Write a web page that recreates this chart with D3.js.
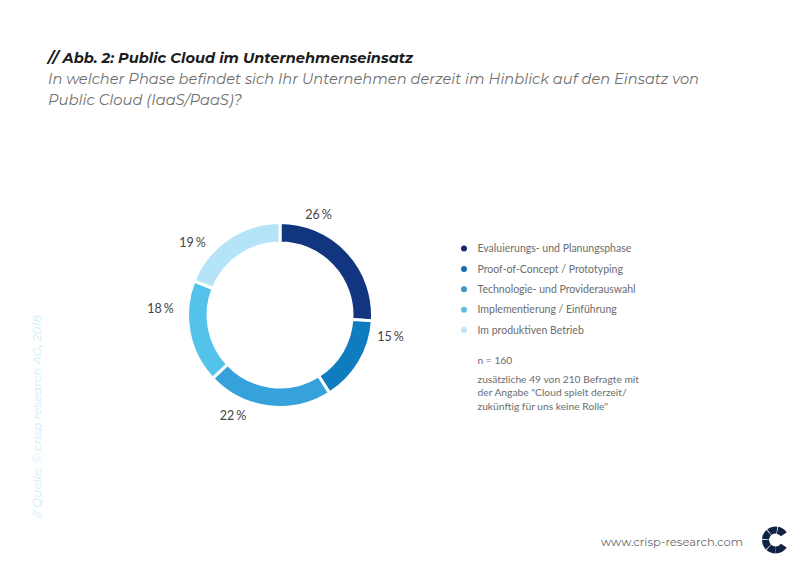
<!DOCTYPE html>
<html><head><meta charset="utf-8">
<script src="https://cdn.jsdelivr.net/npm/d3@7"></script>
<style>html,body{margin:0;padding:0;background:#fff}svg{display:block}</style></head>
<body><svg id="c" width="800" height="565"></svg>
<script>
const categories=["Evaluierungs- und Planungsphase","Proof-of-Concept / Prototyping","Technologie- und Providerauswahl","Implementierung / Einführung","Im produktiven Betrieb"];
const values=[26,15,22,18,19];
const colors=["#11357f","#0f7cc0","#36a2dc","#54c3ec","#b5e3f8"];
const valueLabels=["26 %","15 %","22 %","18 %","19 %"];
const labelAnchors=[[318.5,215],[390.5,337],[233,416],[160.5,309],[192.5,243]];
const notes=["n = 160","zusätzliche 49 von 210 Befragte mit","der Angabe \"Cloud spielt derzeit/","zukünftig für uns keine Rolle\""];
const logoSegments=[[12,56],[-38,8],[-86,-42],[-134,-90],[-180,-138],[124,180]];
const titleFont="Montserrat, Inter, 'Open Sans', sans-serif";
const svg=d3.select("#c");
function txt(x,y,s,o={}){
  const t=svg.append("text").attr("x",x).attr("y",y).text(s)
   .attr("font-family",o.f||"Lato").attr("font-size",o.s||11).attr("fill",o.c||"#555")
   .attr("font-style",o.i?"italic":"normal").attr("font-weight",o.w||400);
  if(o.a)t.attr("text-anchor",o.a);
  if(o.l)t.attr("textLength",o.l).attr("lengthAdjust","spacingAndGlyphs");
  if(o.ws)t.attr("word-spacing",o.ws);
  return t;
}
txt(48,63,"// Abb. 2: Public Cloud im Unternehmenseinsatz",{f:titleFont,s:14.5,w:700,i:1,c:"#1c1c1c",l:365});
txt(48,84,"In welcher Phase befindet sich Ihr Unternehmen derzeit im Hinblick auf den Einsatz von",{f:titleFont,s:14.5,i:1,c:"#6f6f6f",l:651});
txt(48,105,"Public Cloud (IaaS/PaaS)?",{f:titleFont,s:14.5,i:1,c:"#6f6f6f",l:194});

const g=svg.append("g").attr("transform","translate(280,315)");
const pie=d3.pie().sort(null)(values);
const arc=d3.arc().innerRadius(72).outerRadius(92.5);
g.selectAll("path").data(pie).join("path").attr("d",arc)
 .attr("fill",(d,i)=>colors[i]).attr("stroke","#fff").attr("stroke-width",3);
valueLabels.forEach((s,i)=>txt(labelAnchors[i][0],labelAnchors[i][1]+4,s,{s:12.5,a:"middle",c:"#444",ws:-1.2}));

const y=d3.scalePoint().domain(categories).range([248.5,330]);
const legendDots=["#14296b","#1c6cad","#3f93c8","#5cc0dd","#c4e4f2"];
categories.forEach((c,i)=>{
  svg.append("circle").attr("cx",464).attr("cy",y(c)).attr("r",3).attr("fill",legendDots[i]);
  txt(477.5,y(c)+3.8,c,{s:10.5,c:"#6d6d6d"});
});
txt(477.5,364,notes[0],{s:10.25,c:"#6d6d6d"});
notes.slice(1).forEach((n,i)=>txt(477.5,382.5+i*13.5,n,{s:10.25,c:"#6d6d6d"}));

svg.append("text").attr("transform","translate(41,518) rotate(-90)").text("// Quelle: © crisp research AG, 2018")
 .attr("font-family",titleFont).attr("font-size",10.5).attr("font-style","italic").attr("fill","#cdeef8")
 .attr("textLength",203).attr("lengthAdjust","spacingAndGlyphs");
txt(601,546,"www.crisp-research.com",{f:titleFont,s:11,c:"#6a6a6a",l:142});

const logoArc=d3.arc().innerRadius(6.5).outerRadius(13.5);
svg.append("g").attr("transform","translate(775.5,540)").selectAll("path")
 .data(logoSegments).join("path").attr("fill","#0f2244")
 .attr("d",d=>logoArc({startAngle:d[0]*Math.PI/180,endAngle:d[1]*Math.PI/180}));
</script></body></html>
